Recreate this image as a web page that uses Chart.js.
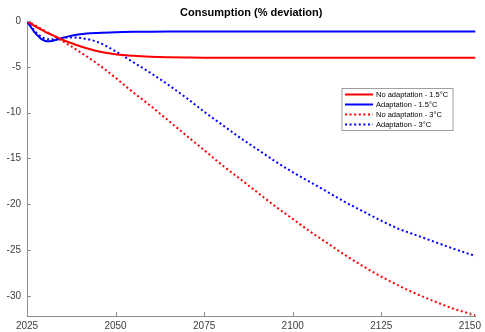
<!DOCTYPE html>
<html>
<head>
<meta charset="utf-8">
<script src="https://cdn.jsdelivr.net/npm/chart.js@4"></script>
<style>
  html, body { margin: 0; padding: 0; background: #fff; }
  #wrap { width: 485px; height: 332px; }
</style>
</head>
<body>
<div id="wrap"><canvas id="chart" width="485" height="332"></canvas></div>
<script>
const chartTitle = 'Consumption (% deviation)';
const years = [2025, 2026, 2027, 2028, 2029, 2030, 2031, 2032, 2033, 2035, 2037, 2040, 2045, 2050, 2055, 2060, 2065, 2070, 2075, 2080, 2085, 2090, 2095, 2100, 2105, 2110, 2115, 2120, 2125, 2130, 2135, 2140, 2145, 2150, 2151.6];

const noAdapt15 = [0, -0.25, -0.5, -0.73, -0.95, -1.15, -1.34, -1.52, -1.69, -2.05, -2.35, -2.75, -3.3, -3.62, -3.8, -3.9, -3.95, -3.98, -4.0, -4.0, -4.0, -4.0, -4.0, -4.0, -4.0, -4.0, -4.0, -4.0, -4.0, -4.0, -4.0, -4.0, -4.0, -4.0, -4.0];
const adapt15 = [0, -0.6, -1.15, -1.6, -1.95, -2.15, -2.22, -2.18, -2.08, -1.85, -1.65, -1.45, -1.3, -1.22, -1.18, -1.16, -1.15, -1.15, -1.15, -1.15, -1.15, -1.15, -1.15, -1.15, -1.15, -1.15, -1.15, -1.15, -1.15, -1.15, -1.15, -1.15, -1.15, -1.15, -1.15];
const noAdapt3 = [0, -0.2, -0.4, -0.62, -0.84, -1.06, -1.28, -1.5, -1.73, -2.2, -2.65, -3.4, -4.7, -6.2, -7.8, -9.3, -10.9, -12.5, -14.1, -15.7, -17.2, -18.7, -20.2, -21.6, -23.0, -24.3, -25.6, -26.8, -27.9, -28.9, -29.8, -30.6, -31.35, -31.95, -32.15];
const adapt3 = [0, -0.5, -1.0, -1.4, -1.7, -1.9, -2.0, -2.0, -1.95, -1.85, -1.8, -1.85, -2.3, -3.3, -4.5, -5.7, -7.0, -8.4, -9.9, -11.3, -12.7, -14.0, -15.3, -16.5, -17.6, -18.7, -19.8, -20.8, -21.8, -22.7, -23.4, -24.1, -24.8, -25.45, -25.65];

const seriesLabels = ['No adaptation - 1.5°C', 'Adaptation - 1.5°C', 'No adaptation - 3°C', 'Adaptation - 3°C'];
const xTicks = [2025, 2050, 2075, 2100, 2125, 2150];
const yTicks = [-30, -25, -20, -15, -10, -5, 0];

const RED = '#ff0000';
const BLUE = '#0000ff';
const AXIS = '#8c8c8c';
const TEXT = '#404040';
const DOTS = [2, 2.6];

function pts(arr) {
  return arr.map((v, i) => ({ x: years[i], y: v }));
}

// title, inward tick marks and boxed legend drawn inside the axes
const matlabLook = {
  id: 'matlabLook',
  afterDraw(chart) {
    const ctx = chart.ctx;
    const area = chart.chartArea;
    const xs = chart.scales.x, ys = chart.scales.y;
    ctx.save();

    ctx.fillStyle = '#000';
    ctx.font = 'bold 11px "Liberation Sans", Arial, sans-serif';
    ctx.textAlign = 'center';
    ctx.textBaseline = 'middle';
    ctx.fillText(chartTitle, (area.left + area.right) / 2, 13);

    ctx.strokeStyle = AXIS;
    ctx.lineWidth = 1;
    ctx.beginPath();
    xTicks.forEach(t => {
      const px = Math.round(xs.getPixelForValue(t)) + 0.5;
      ctx.moveTo(px, area.bottom);
      ctx.lineTo(px, area.bottom - 4);
    });
    yTicks.forEach(t => {
      const py = Math.round(ys.getPixelForValue(t)) + 0.5;
      ctx.moveTo(area.left, py);
      ctx.lineTo(area.left + 4, py);
    });
    ctx.stroke();

    // legend
    const bx = area.right - 133.5, by = 88.5, bw = 111, bh = 42;
    ctx.fillStyle = '#fff';
    ctx.fillRect(bx, by, bw, bh);
    ctx.strokeStyle = '#a0a0a0';
    ctx.strokeRect(bx, by, bw, bh);
    ctx.font = '7.5px "Liberation Sans", Arial, sans-serif';
    ctx.textAlign = 'left';
    chart.data.datasets.forEach((ds, i) => {
      const y = by + 6 + i * 10;
      ctx.strokeStyle = ds.borderColor;
      ctx.lineWidth = 2;
      ctx.setLineDash(ds.borderDash || []);
      ctx.beginPath();
      ctx.moveTo(bx + 3, y);
      ctx.lineTo(bx + 31, y);
      ctx.stroke();
      ctx.setLineDash([]);
      ctx.fillStyle = '#000';
      ctx.fillText(ds.label, bx + 34, y + 0.5);
    });
    ctx.restore();
  }
};

new Chart(document.getElementById('chart'), {
  type: 'line',
  data: {
    datasets: [
      { label: seriesLabels[0], data: pts(noAdapt15), borderColor: RED, borderWidth: 2 },
      { label: seriesLabels[1], data: pts(adapt15), borderColor: BLUE, borderWidth: 2 },
      { label: seriesLabels[2], data: pts(noAdapt3), borderColor: RED, borderWidth: 2, borderDash: DOTS },
      { label: seriesLabels[3], data: pts(adapt3), borderColor: BLUE, borderWidth: 2, borderDash: DOTS }
    ]
  },
  options: {
    responsive: false,
    animation: false,
    layout: { padding: { top: 21, right: 5, left: 0, bottom: 0 } },
    elements: {
      point: { radius: 0 },
      line: { cubicInterpolationMode: 'monotone', fill: false }
    },
    scales: {
      x: {
        type: 'linear',
        min: 2025,
        max: 2151.6,
        afterBuildTicks: s => { s.ticks = xTicks.map(v => ({ value: v })); },
        afterFit: s => { s.height = 16; },
        grid: { display: true, drawOnChartArea: false, drawTicks: false },
        border: { color: AXIS, width: 1 },
        ticks: {
          padding: 4,
          maxRotation: 0,
          color: TEXT,
          font: { family: '"Liberation Sans", Arial, sans-serif', size: 10 },
          callback: v => String(v)
        }
      },
      y: {
        min: -32.2,
        max: 0,
        afterBuildTicks: s => { s.ticks = yTicks.map(v => ({ value: v })); },
        afterFit: s => { s.width = 27; },
        grid: { display: true, drawOnChartArea: false, drawTicks: false },
        border: { color: AXIS, width: 1 },
        ticks: {
          padding: 6,
          color: TEXT,
          font: { family: '"Liberation Sans", Arial, sans-serif', size: 10 },
          callback: v => String(v)
        }
      }
    },
    plugins: {
      legend: { display: false },
      title: { display: false },
      tooltip: { enabled: false }
    }
  },
  plugins: [matlabLook]
});
</script>
</body>
</html>
